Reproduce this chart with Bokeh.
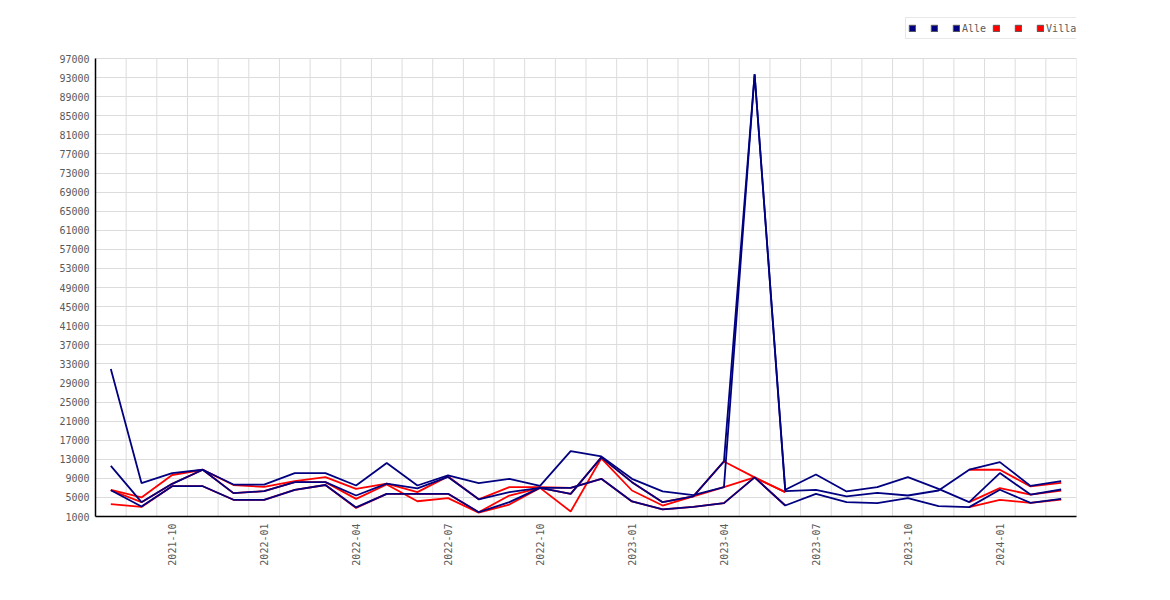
import math
from bokeh.plotting import figure
from bokeh.models import (FixedTicker, NumeralTickFormatter, Legend, LegendItem,
                          ColumnDataSource, Range1d)
from bokeh.embed import file_html
from bokeh.resources import INLINE

NAN = float("nan")

months = ["2021-08", "2021-09", "2021-10", "2021-11", "2021-12", "2022-01", "2022-02", "2022-03",
          "2022-04", "2022-05", "2022-06", "2022-07", "2022-08", "2022-09", "2022-10", "2022-11",
          "2022-12", "2023-01", "2023-02", "2023-03", "2023-04", "2023-05", "2023-06", "2023-07",
          "2023-08", "2023-09", "2023-10", "2023-11", "2023-12", "2024-01", "2024-02", "2024-03"]

tick_labels = ["2021-10", "2022-01", "2022-04", "2022-07", "2022-10",
               "2023-01", "2023-04", "2023-07", "2023-10", "2024-01"]

y_ticks = list(range(1000, 97001, 4000))

alle_1 = [31900, 8000, 10100, 10800, 7700, 7700, 10100, 10100, 7500, 12200, 7500, 9600, 8000, 8900,
          7400, 14700, 13600, 8900, 6250, 5500, 7150, 93700, 6600, 9800, 6250, 7150, 9250, 6800,
          4000, 10100, 5600, 6660]
alle_2 = [11600, 4000, 7850, 10800, 5900, 6300, 8200, 8200, 5400, 7900, 6900, 9300, 4600, 6100,
          7000, 7000, 8900, 4150, 2500, 3000, 3800, 9200, 3300, 5750, 4000, 3800, 4850, 3170,
          2960, 6600, 3870, 4700]
alle_3 = [6500, 3100, 7350, 7350, 4500, 4500, 6600, 7600, 2900, 5750, 5750, 5750, 1900, 4000,
          7000, 5750, 13400, 8200, 4000, 5200, 12540, 93700, 6300, 6600, 5200, 5960, 5400, 6450,
          10800, 12400, 7400, 8400]

villa_1 = [6600, 5000, 9700, 10800, 7600, 7200, 8400, 9250, 6800, 7900, 6100, 9400, 4600, 7150,
           7150, 7000, 8900, 4150, 2500, 3000, 3800, 9200, 3300, NAN, NAN, NAN, NAN, NAN,
           4000, 6940, 5600, 6450]
villa_2 = [6500, 4000, 7850, 10800, 5900, 6300, 8200, 8200, 4700, 7700, 4200, 4850, 1800, 3500,
           7000, 2050, 13200, 6450, 3300, 5200, 7150, 9200, 6100, NAN, NAN, NAN, NAN, NAN,
           2960, 4500, 3870, 4560]
villa_3 = [3600, 3000, 7350, 7350, 4500, 4500, 6600, 7600, 2800, 5750, 5750, 5750, 1900, 5400,
           7000, 5750, 13400, 8200, 4000, 5200, 12540, 9200, 6100, NAN, NAN, NAN, NAN, NAN,
           10800, 10800, 7300, 8060]

NAVY = "#000080"
RED = "#ff0000"
GRID = "#dcdcdc"
FONT = "DejaVu Sans Mono"
TXT = "#5a5a5a"

# layout: frame spans from the legend row down to the x axis; the value scale
# (96000 units over 458 px) leaves the area above 97000 free for the legend
FRAME_TOP, FRAME_BOTTOM, PLOT_PX = 11, 516, 458
y_lo, y_hi = y_ticks[0], y_ticks[-1]
y_end = y_lo + (y_hi - y_lo) * (FRAME_BOTTOM - FRAME_TOP) / PLOT_PX

x = list(range(len(months)))
src = ColumnDataSource(dict(x=x, a1=alle_1, a2=alle_2, a3=alle_3, v1=villa_1, v2=villa_2, v3=villa_3))

p = figure(width=1160, height=592, output_backend="svg", toolbar_location=None,
           x_range=Range1d(-0.5, len(months) - 0.5), y_range=Range1d(y_lo, y_end),
           min_border_left=95, min_border_right=84, min_border_top=FRAME_TOP,
           min_border_bottom=592 - FRAME_BOTTOM)
p.outline_line_color = None
p.background_fill_color = "white"

# axes
p.xaxis.ticker = FixedTicker(ticks=[months.index(t) for t in tick_labels])
p.xaxis.major_label_overrides = {months.index(t): t for t in tick_labels}
p.xaxis.major_label_orientation = math.pi / 2
p.yaxis.ticker = FixedTicker(ticks=y_ticks)
p.yaxis.formatter = NumeralTickFormatter(format="0")
p.yaxis.bounds = (y_lo, y_hi)
for ax in (p.xaxis[0], p.yaxis[0]):
    ax.axis_line_color = "black"
    ax.axis_line_width = 1.5
    ax.major_tick_line_color = None
    ax.minor_tick_line_color = None
    ax.major_tick_out = 0
    ax.major_tick_in = 0
    ax.minor_tick_out = 0
    ax.major_label_text_font = FONT
    ax.major_label_text_font_size = "10px"
    ax.major_label_text_color = TXT
p.xaxis.major_label_standoff = 7
p.yaxis.major_label_standoff = 6

# grid: horizontal from the y ticker, vertical between months (limited to the value range)
p.xgrid.visible = False
p.ygrid.grid_line_color = GRID
gx = [i + 0.5 for i in range(-1, len(months))]
p.segment(x0=gx, y0=[y_lo] * len(gx), x1=gx, y1=[y_hi] * len(gx), line_color=GRID, line_width=1)

LW = 1.8
for col in ("v1", "v2", "v3"):
    p.line("x", col, source=src, line_color=RED, line_width=LW)
for col in ("a1", "a2", "a3"):
    p.line("x", col, source=src, line_color=NAVY, line_width=LW)

# legend swatches (one undrawn NaN row so the legend renders the square)
def swatch(color):
    return p.quad(left=[NAN], right=[NAN], top=[NAN], bottom=[NAN],
                  fill_color=color, line_color="#555555", line_width=1)

items = []
for lab in (" ", " ", "Alle"):
    items.append(LegendItem(label=lab, renderers=[swatch(NAVY)]))
for lab in (" ", " ", "Villa"):
    items.append(LegendItem(label=lab, renderers=[swatch(RED)]))

legend = Legend(items=items, orientation="horizontal", location=(810, 477), margin=0,
                glyph_width=8, glyph_height=8, label_standoff=2, spacing=6, padding=2,
                label_width=6, label_height=16, label_text_font=FONT, label_text_font_size="10px",
                label_text_color=TXT, border_line_color="#cfcfcf", border_line_width=1,
                background_fill_color="white", background_fill_alpha=1.0)
p.add_layout(legend, "center")

open("out.html", "w").write(file_html(p, INLINE))
